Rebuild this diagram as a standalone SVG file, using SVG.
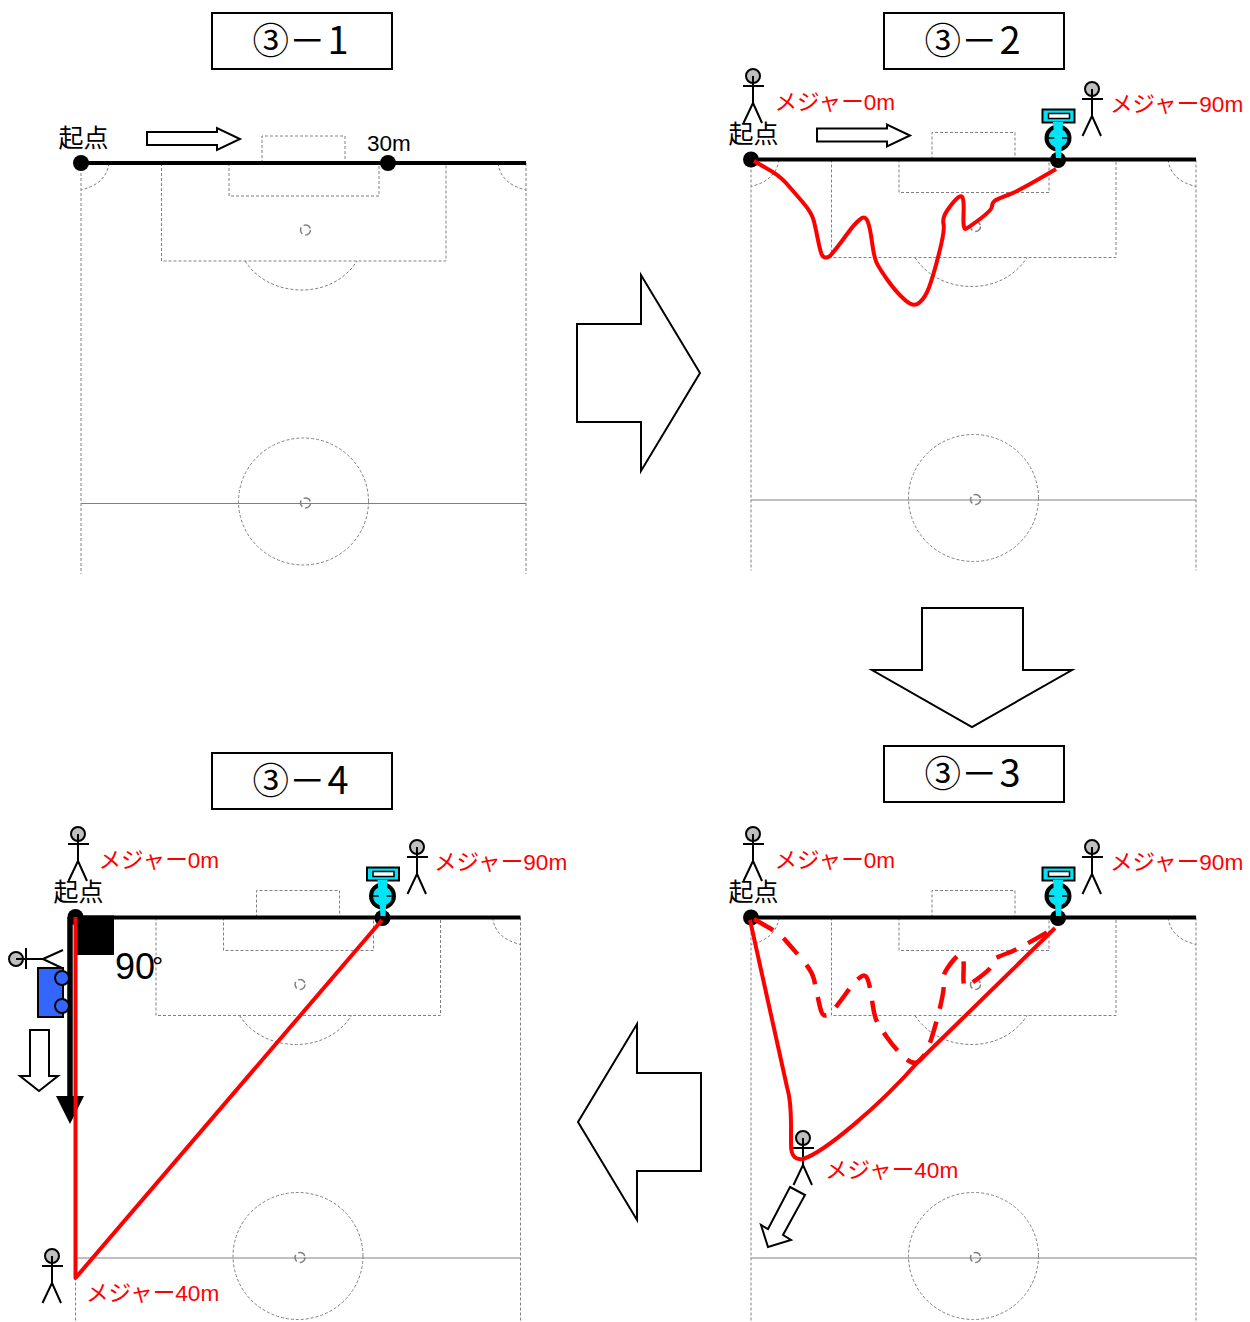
<svg xmlns="http://www.w3.org/2000/svg" xmlns:xlink="http://www.w3.org/1999/xlink" width="1250" height="1322" viewBox="0 0 1250 1322">
<style>
text{font-family:"Liberation Sans","Noto Sans CJK JP",sans-serif}
.t{font-family:"Noto Sans CJK JP","Liberation Sans",sans-serif;font-size:36.500px;fill:#000}
.d{font-size:38px}
.m{font-size:22.600px;fill:#f00}
.k{font-size:25px;fill:#000;font-family:"Noto Sans CJK JP",sans-serif}
.box{fill:#fff;stroke:#000;stroke-width:2}
.f{fill:none;stroke:#808080;stroke-width:1;stroke-dasharray:3 2}
.s{fill:none;stroke:#808080;stroke-width:1.500;stroke-dasharray:8 3 7 3}
.h{fill:#fff;stroke:#000;stroke-width:2;stroke-linejoin:miter}
.r{fill:none;stroke:#f00;stroke-width:4;stroke-linejoin:round}
.g{stroke:#000;stroke-width:4}
.p{fill:none;stroke:#000;stroke-width:2}
</style>
<defs>
<g id="field">
<path class="f" d="M81 163V574M526 163V574M262 163V136H345V163M229 163V196H379V163M161.500 163V261H446V163"/>
<path class="f" d="M109 163C107 178 97 186 81 190M498 163C500 178 510 186 526 190M245 261C258 281 280 290 302 290C324 290 345 280 357 261"/>
<circle class="s" cx="305.500" cy="230" r="5"/>
<path d="M81 503.500H526" fill="none" stroke="#808080" stroke-width="1"/>
<ellipse class="f" cx="303.500" cy="501.500" rx="65" ry="63.500"/>
<circle class="s" cx="305.500" cy="503" r="5"/>
<path class="g" d="M81 163H526"/>
</g>
<g id="person">
<circle cx="0" cy="0" r="7" fill="#bfbfbf" stroke="#000" stroke-width="2"/>
<path class="p" d="M0 0V27M-10 10H11M0 27L-9.500 47M0 27L9 47"/>
</g>
<g id="wheel">
<circle cx="1058" cy="138" r="11.500" fill="#00e5f5" stroke="#000" stroke-width="4"/>
<path d="M1047 138H1069M1058 127V149" stroke="#000" stroke-width="1.500"/>
<circle cx="1058" cy="160" r="8" fill="#000"/>
<rect x="1042.500" y="109.500" width="32" height="13" fill="#00e5f5" stroke="#000" stroke-width="2"/>
<rect x="1048.500" y="113.500" width="21" height="5" fill="#fff" stroke="#000" stroke-width="1.500"/>
<path d="M1053 122H1063L1061 158H1056Z" fill="#00e5f5"/>
</g>
<path id="wander" d="M754 161L766 168Q779 175 786.500 183.500Q794 192 803 202.500Q812 213 814 221.500Q816 230 818 240Q820 250 821.500 254Q824 260 830 256Q837 248 846 235.500Q855 223 860 219.500Q865 215 867.500 221Q870 227 872 242Q874 257 876.500 262.500Q879 268 887.500 280Q896 292 905 300Q914 308 919.500 302.500Q925 298 929 287.500Q933 277 939 253.500Q945 230 943.500 224Q942 218 947.500 210Q953 202 957.500 198Q962 194 963 199Q964 203 963.500 215.500Q963 229 965.500 229Q968 228 980 219Q992 210 992 206.500Q992 203 994.500 201Q997 199 1008 195Q1019 191 1056 169"/>
</defs>

<g id="panel-1">
<rect class="box" x="212" y="13" width="180" height="56"/>
<text class="t" x="252.500" y="54">③－<tspan class="d" dx="2">1</tspan></text>
<use xlink:href="#field" href="#field"/>
<circle cx="81" cy="163" r="8"/><circle cx="388" cy="163" r="8"/>
<text class="k" x="58.500" y="147">起点</text>
<text x="367" y="151" font-size="22.500">30m</text>
<polygon class="h" points="147,132 217,132 217,128 240,139 217,150 217,145 147,145"/>
</g>

<g id="panel-2">
<rect class="box" x="884" y="13" width="180" height="56"/>
<text class="t" x="924.500" y="54">③－<tspan class="d" dx="2">2</tspan></text>
<use href="#field" transform="translate(670,-3.500)"/>
<circle cx="751" cy="159.500" r="8"/>
<use href="#wheel"/>
<use href="#person" x="753" y="76"/><use href="#person" x="1092" y="89"/>
<text class="k" x="728.500" y="143">起点</text>
<text class="m" x="774.500" y="110">メジャー0m</text>
<text class="m" x="1110" y="112">メジャー90m</text>
<polygon class="h" points="817,128.500 887,128.500 887,124.500 910,135.500 887,146.500 887,141.500 817,141.500"/>
<use href="#wander" class="r"/>
</g>

<g id="panel-3">
<rect class="box" x="884" y="746" width="180" height="56"/>
<text class="t" x="924.500" y="787">③－<tspan class="d" dx="2">3</tspan></text>
<use href="#field" transform="translate(670,754.500)"/>
<circle cx="751" cy="917.500" r="8"/>
<use href="#wheel" y="758"/>
<use href="#person" x="753" y="834"/><use href="#person" x="1092" y="847"/><use href="#person" x="803" y="1138"/>
<text class="k" x="728.500" y="901">起点</text>
<text class="m" x="774.500" y="868">メジャー0m</text>
<text class="m" x="1110" y="870">メジャー90m</text>
<text class="m" x="825" y="1178">メジャー40m</text>
<use href="#wander" y="758" class="r" stroke-width="4.500" stroke-dasharray="22 13" style="stroke-width:4.500"/>
<path class="r" d="M750 920L787 1087C791 1100 791 1115 791 1125L791 1145C791 1158 797 1160 803 1159C825 1152 880 1105 917 1063L1055 928"/>
<polygon class="h" points="790,1187 805,1195 783,1235 791,1240 768,1247 761,1225 768,1229"/>
</g>

<g id="panel-4">
<rect class="box" x="212" y="753" width="180" height="56"/>
<text class="t" x="252.500" y="794">③－<tspan class="d" dx="2">4</tspan></text>
<use href="#field" transform="translate(-5.500,754.500)"/>
<use href="#wheel" x="-675.500" y="758"/>
<use href="#person" x="78" y="834"/><use href="#person" x="417" y="847"/><use href="#person" x="52" y="1256"/>
<use href="#person" transform="translate(16,959) rotate(-90)"/>
<text class="k" x="53.500" y="901">起点</text>
<text class="m" x="98.500" y="868">メジャー0m</text>
<text class="m" x="434" y="870">メジャー90m</text>
<text class="m" x="86" y="1301">メジャー40m</text>
<path d="M70 917V1100" stroke="#000" stroke-width="5.500"/>
<circle cx="75.500" cy="917" r="8"/>
<rect x="75" y="915.500" width="39" height="39.500"/>
<polygon points="56,1096 84,1096 70,1124"/>
<path class="r" d="M75.500 917V1278L382 920"/>
<rect x="38" y="968" width="25" height="49" fill="#3366ff" stroke="#000" stroke-width="2"/>
<circle cx="62" cy="978" r="7" fill="#3366ff" stroke="#000" stroke-width="2"/>
<circle cx="62" cy="1006" r="7" fill="#3366ff" stroke="#000" stroke-width="2"/>
<polygon class="h" points="30,1030 49,1030 49,1076 58,1076 39,1091 20,1076 30,1076"/>
<text x="115" y="979" font-size="36">90<tspan font-size="28" dx="-3" dy="-3">°</tspan></text>
</g>

<g id="connectors">
<polygon class="h" points="577,324 641,324 641,275 700,373 641,471 641,422 577,422"/>
<polygon class="h" points="922,608 1023,608 1023,670 1072,670 972,727 872,670 922,670"/>
<polygon class="h" points="701,1073 637,1073 637,1024 578,1122 637,1220 637,1171 701,1171"/>
</g>
</svg>
